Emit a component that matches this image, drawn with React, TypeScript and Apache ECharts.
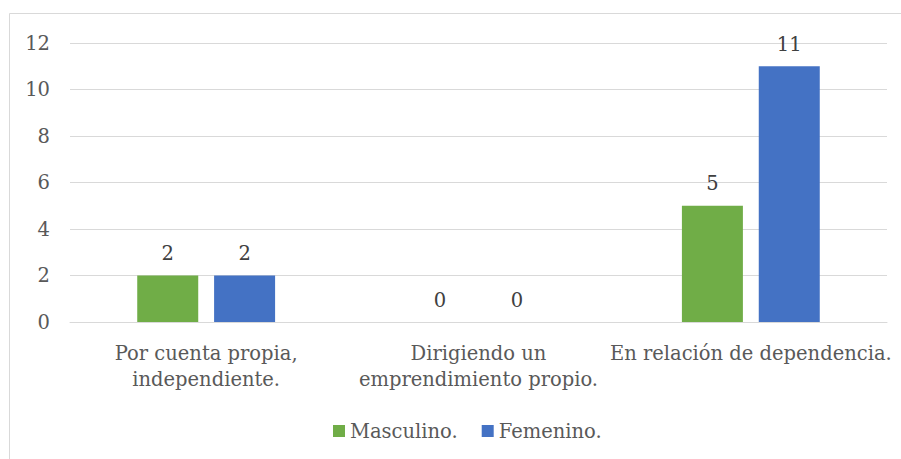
import React, { useEffect, useRef } from "react";
import * as echarts from "echarts";

const categories = [
  "Por cuenta propia,\nindependiente.",
  "Dirigiendo un\nemprendimiento propio.",
  "En relación de dependencia.",
];
const masculino = [2, 0, 5];
const femenino = [2, 0, 11];
const seriesNames = ["Masculino.", "Femenino."];
const yTicks = { min: 0, max: 12, interval: 2 };

const FONT = "DejaVu Serif";
const FS = 19.5;

export default function App() {
  const ref = useRef<HTMLDivElement>(null);
  useEffect(() => {
    if (!ref.current) return;
    const chart = echarts.init(ref.current, null, { renderer: "svg" });
    const labelStyle = {
      show: true,
      position: "top" as const,
      color: "#404040",
      fontSize: FS,
      fontFamily: FONT,
      distance: 12,
    };
    chart.setOption({
      animation: false,
      backgroundColor: "#ffffff",
      textStyle: { fontFamily: FONT },
      graphic: [
        {
          type: "rect",
          shape: { x: 9.5, y: 13.5, width: 900, height: 460 },
          style: { fill: "none", stroke: "#d9d9d9", lineWidth: 1 },
          silent: true,
        },
      ],
      grid: { left: 70, right: 14, top: 43, bottom: 137, containLabel: false },
      legend: {
        data: seriesNames,
        top: 416,
        left: 328,
        icon: "rect",
        itemWidth: 12,
        itemHeight: 12,
        itemGap: 24,
        textStyle: { fontSize: FS, color: "#595959", fontFamily: FONT },
      },
      xAxis: {
        type: "category",
        data: categories,
        axisLine: { lineStyle: { color: "#d9d9d9", width: 1 } },
        axisTick: { show: false },
        axisLabel: {
          color: "#595959",
          fontSize: FS,
          fontFamily: FONT,
          lineHeight: 26,
          margin: 18,
          interval: 0,
          verticalAlign: "top",
        },
      },
      yAxis: {
        type: "value",
        min: yTicks.min,
        max: yTicks.max,
        interval: yTicks.interval,
        axisLine: { show: false },
        axisTick: { show: false },
        splitLine: { lineStyle: { color: "#d9d9d9", width: 1 } },
        axisLabel: { color: "#595959", fontSize: FS, fontFamily: FONT, margin: 20 },
      },
      series: [
        {
          name: seriesNames[0],
          type: "bar",
          data: masculino,
          barWidth: 61,
          barGap: "26%",
          itemStyle: { color: "#70ad47" },
          label: labelStyle,
        },
        {
          name: seriesNames[1],
          type: "bar",
          data: femenino,
          barWidth: 61,
          barGap: "26%",
          itemStyle: { color: "#4472c4" },
          label: labelStyle,
        },
      ],
    });
    return () => chart.dispose();
  }, []);
  return (
    <div
      ref={ref}
      style={{ position: "fixed", left: 0, top: 0, width: 901, height: 459 }}
    />
  );
}
